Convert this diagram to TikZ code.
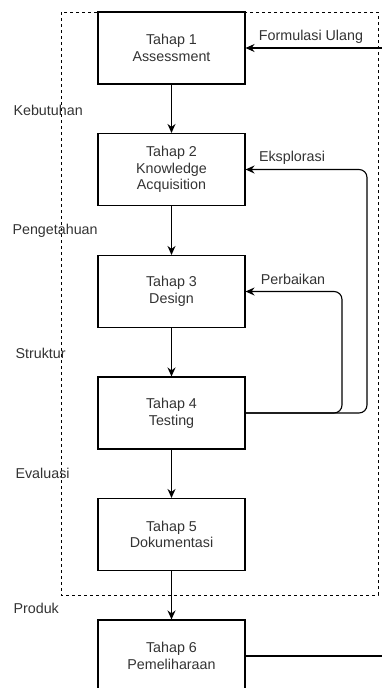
\documentclass[tikz,border=0pt]{standalone}
\usepackage{fontspec}
\setmainfont{Liberation Sans}
\usetikzlibrary{arrows.meta}
\begin{document}
\begin{tikzpicture}[x=1pt, y=-1pt, line width=1.1pt,
	font=\fontsize{14.3}{16.7}\selectfont,
	tahap/.style={draw, rectangle, minimum width=147pt, minimum height=72pt, align=center, text=black!80},
	label/.style={anchor=west, inner sep=0pt, text=black!80},
	panah/.style={-{Stealth[length=9pt, width=8pt]}},
	batas/.style={dash pattern=on 3pt off 3pt, line width=0.9pt}]
	\useasboundingbox (0,0) rectangle (382,688);
	% fase pengembangan
	\draw[batas] (61,12) rectangle (378,595);
	\node (T1) at (171.5,  48)	[tahap]	{Tahap 1\\Assessment};
	\node (T2) at (171.5, 169.5)	[tahap]	{Tahap 2\\Knowledge\\Acquisition};
	\node (T3) at (171.5, 291.5)	[tahap]	{Tahap 3\\Design};
	\node (T4) at (171.5, 413)	[tahap]	{Tahap 4\\Testing};
	\node (T5) at (171.5, 534.5)	[tahap]	{Tahap 5\\Dokumentasi};
	\node (T6) at (171.5, 656)	[tahap]	{Tahap 6\\Pemeliharaan};
	\node (kebutuhan)	at (13, 110)	[label]	{Kebutuhan};
	\node (pengetahuan)	at (12, 231)	[label]	{Pengetahuan};
	\node (struktur)	at (15, 353)	[label]	{Struktur};
	\node (evaluasi)	at (15, 473)	[label]	{Evaluasi};
	\node (produk)		at (13, 608)	[label]	{Produk};
	\node (ulang)	at (311, 37)	[text=black!80]	{Formulasi Ulang};
	\node (eksplorasi)	at (292, 158)	[text=black!80]	{Eksplorasi};
	\node (perbaikan)	at (293, 279)	[text=black!80]	{Perbaikan};
	\coordinate (eks) at (367, 0);
	\coordinate (per) at (342, 0);
	\coordinate (kembali) at (390, 0);
	\draw[panah] (T1) -- (T2);
	\draw[panah] (T2) -- (T3);
	\draw[panah] (T3) -- (T4);
	\draw[panah] (T4) -- (T5);
	\draw[panah] (T5) -- (T6);
	\draw[panah, rounded corners=8pt] (T4.east) -- (T4.east -| eks) -- (T2.east -| eks) -- (T2.east);
	\draw[panah, rounded corners=8pt] (T4.east) -- (T4.east -| per) -- (T3.east -| per) -- (T3.east);
	\draw[panah] (T6.east) -- (T6.east -| kembali) -- (T1.east -| kembali) -- (T1.east);
\end{tikzpicture}
\end{document}
